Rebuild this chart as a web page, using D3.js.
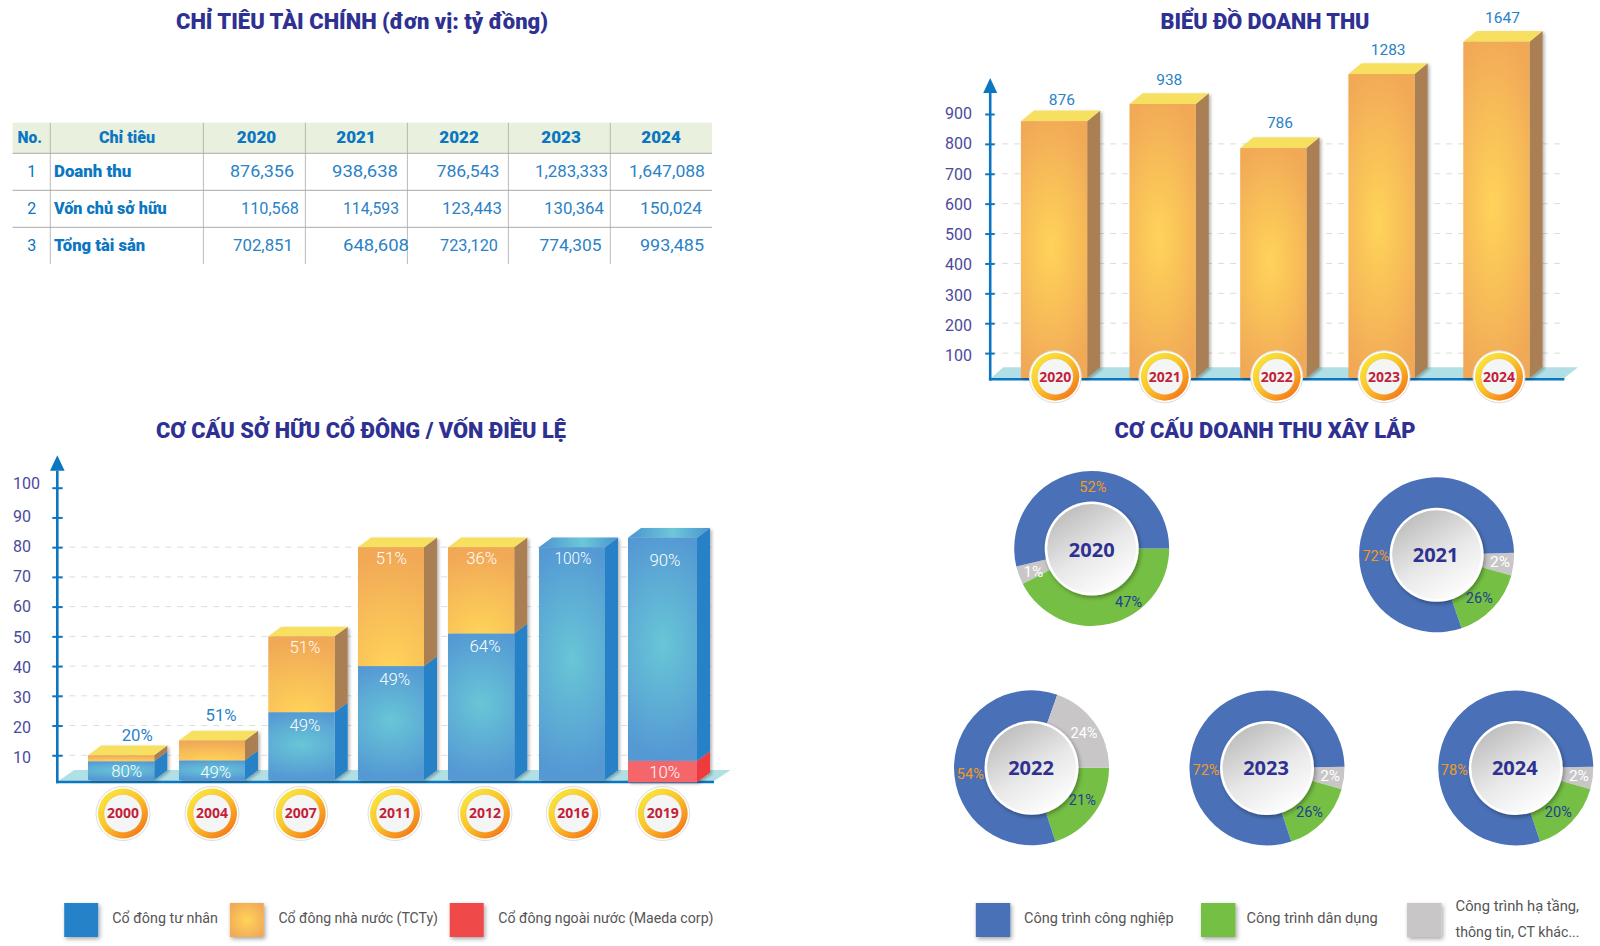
<!DOCTYPE html>
<html><head><meta charset="utf-8">
<style>html,body{margin:0;padding:0;background:#fff}svg{display:block}</style>
<script src="https://cdn.jsdelivr.net/npm/d3@7/dist/d3.min.js"></script>
</head><body><svg id="c" width="1600" height="946"></svg>
<script>
// ---------- data ----------
const tableHeader = ["No.","Chỉ tiêu","2020","2021","2022","2023","2024"];
const tableIndicators = ["Doanh thu","Vốn chủ sở hữu","Tổng tài sản"];
const tableRevenue = ["876,356","938,638","786,543","1,283,333","1,647,088"];
const tableEquity = ["110,568","114,593","123,443","130,364","150,024"];
const tableAssets = ["702,851","648,608","723,120","774,305","993,485"];

const revenueYears = ["2020","2021","2022","2023","2024"];
const revenueValues = [876,938,786,1283,1647];
const revenueTicks = [100,200,300,400,500,600,700,800,900];

const ownerYears = ["2000","2004","2007","2011","2012","2016","2019"];
const ownerPrivate = [8,8.3,24.5,40,51,80,75.1];
const ownerState = [2,6.7,25.5,40,29,0,0];
const ownerForeign = [0,0,0,0,0,0,8.1];
const ownerPrivateLabels = ["80%","49%","49%","49%","64%","100%","90%"];
const ownerStateLabels = ["20%","51%","51%","51%","36%","",""];
const ownerForeignLabels = ["","","","","","","10%"];
const ownerTicks = [10,20,30,40,50,60,70,80,90,100];
const ownerLegend = ["Cổ đông tư nhân","Cổ đông nhà nước (TCTy)","Cổ đông ngoài nước (Maeda corp)"];

const donutYears = ["2020","2021","2022","2023","2024"];
const donutOrder = [["green","grey","blue"],["grey","green","blue"],["green","blue","grey"],["grey","green","blue"],["grey","green","blue"]];
const donutShares = [[42.5,3.75,53.75],[4.7,15.5,79.8],[20,60.4,19.6],[4.7,15.5,79.8],[4.7,15.5,79.8]];
const donutLabels = [["47%","1%","52%"],["2%","26%","72%"],["21%","54%","24%"],["2%","26%","72%"],["2%","20%","78%"]];
const donutLegend = ["Công trình công nghiệp","Công trình dân dụng"];
const donutLegendLines = ["Công trình hạ tầng,","thông tin, CT khác..."];

// ---------- layout & style ----------
const BLUE="#0b76c1", NAVY="#2e3192", TXT="#2b82c6", TICK="#4b4a9c", LEG="#555";
const FONT="Roboto, 'Noto Sans', sans-serif", BADGE="'Open Sans', sans-serif";
const svg=d3.select("#c");
const defs=svg.append("defs");
function radial(id,cx,cy,r,sx,c0,c1){const g=defs.append("radialGradient").attr("id",id).attr("cx",cx).attr("cy",cy).attr("r",r)
    .attr("gradientTransform",`translate(${cx},${cy}) scale(${sx},1) translate(${-cx},${-cy})`);
  g.append("stop").attr("offset","0%").attr("stop-color",c0);g.append("stop").attr("offset","100%").attr("stop-color",c1);}
function linear(id,x1,y1,x2,y2,stops){const g=defs.append("linearGradient").attr("id",id).attr("x1",x1).attr("y1",y1).attr("x2",x2).attr("y2",y2);
  stops.forEach(s=>g.append("stop").attr("offset",s[0]).attr("stop-color",s[1]));}
radial("orangeTall",.45,.49,.52,1.5,"#ffd45a","#f1a957");
radial("orangeStack",.5,1.02,.95,1.4,"#ffd45a","#f1a957");
radial("orangeLeg",.5,.5,.6,1,"#ffd45a","#f1a957");
radial("blueFront",.5,.48,.5,1.9,"#68c6d6","#5599d4");
linear("blueTop",0,0,1,0,[[0,"#4c94d0"],[.55,"#6cc8d8"],[1,"#4c94d0"]]);
linear("ring",.15,.1,.85,.9,[[0,"#f8e43c"],[.45,"#fbc62a"],[1,"#f47a1a"]]);
linear("disc",.2,.05,.75,.95,[[0,"#bdbdbd"],[.55,"#e8e8e8"],[1,"#fdfdfd"]]);
const sh=defs.append("filter").attr("id","shadow").attr("x","-20%").attr("y","-20%").attr("width","150%").attr("height","150%");
sh.append("feDropShadow").attr("dx",2).attr("dy",1.5).attr("stdDeviation",1.6).attr("flood-color","#000").attr("flood-opacity",.28);
const sh2=defs.append("filter").attr("id","soft").attr("x","-30%").attr("y","-30%").attr("width","160%").attr("height","160%");
sh2.append("feDropShadow").attr("dx",1.5).attr("dy",2).attr("stdDeviation",2).attr("flood-color","#000").attr("flood-opacity",.35);

function label(parent,text,x,y,o={}){
  const t=parent.append("text").attr("x",x).attr("y",y).text(text)
    .attr("text-anchor",o.anchor||"middle").attr("dominant-baseline","central")
    .attr("font-family",o.font||FONT).attr("font-size",o.size||15)
    .attr("font-weight",o.weight||400).attr("fill",o.fill||TXT);
  if(o.w) t.attr("textLength",o.w).attr("lengthAdjust","spacingAndGlyphs");
  return t;
}
const poly=pts=>pts.map(p=>p.join(",")).join(" ");

// ---------- titles ----------
[["CHỈ TIÊU TÀI CHÍNH (đơn vị: tỷ đồng)",362,21.5,372],["BIỂU ĐỒ DOANH THU",1265,21.5,209],
 ["CƠ CẤU SỞ HỮU CỔ ĐÔNG / VỐN ĐIỀU LỆ",361,430.5,410],["CƠ CẤU DOANH THU XÂY LẮP",1265,430.5,301]]
 .forEach(d=>label(svg,d[0],d[1],d[2],{size:22,weight:900,fill:NAVY,w:d[3]}));

// ---------- table ----------
(function(){
  const g=svg.append("g");
  const L=12.6,R=712,colX=[50.3,203.4,305.4,407.4,508.4,610.3];
  const rowY=d3.scaleOrdinal().domain([-1,0,1,2,3]).range([122.7,153.3,190.3,227.3,264]);
  g.append("rect").attr("x",L).attr("y",rowY(-1)).attr("width",R-L).attr("height",rowY(0)-rowY(-1)).attr("fill","#e9f1de");
  [0,1,2].forEach(i=>g.append("line").attr("x1",L).attr("x2",R).attr("y1",rowY(i)).attr("y2",rowY(i)).attr("stroke","#a9a9a9"));
  colX.forEach(x=>g.append("line").attr("x1",x).attr("x2",x).attr("y1",rowY(-1)).attr("y2",rowY(3)).attr("stroke","#a9a9a9").attr("stroke-width",.8));
  const headX=[29.8,127,256.5,356,459,561,661], headW=[24.5,56,39.5,39.5,39.5,39.5,39.5];
  tableHeader.forEach((h,i)=>label(g,h,headX[i],137,{size:16,weight:900,fill:BLUE,w:headW[i]}));
  const cy=[171.2,208,245], lw=[77.3,112.7,91.2];
  const rows=[tableRevenue,tableEquity,tableAssets];
  const rightEdge=[[294,398,499.5,608,705],[299,399,502,604,702],[293,409,498,601.5,704]];
  const cellW=[[64,66,63,73,76],[58,56,60,60,62],[60,66,58,62,64]];
  rows.forEach((r,i)=>{
    label(g,String(i+1),31.7,cy[i],{size:16,fill:BLUE});
    label(g,tableIndicators[i],54,cy[i],{anchor:"start",size:16,weight:900,fill:BLUE,w:lw[i]});
    r.forEach((v,j)=>label(g,v,rightEdge[i][j],cy[i],{anchor:"end",size:17,fill:TXT,w:cellW[i][j]}));
  });
})();

// ---------- shared pieces ----------
function badge(parent,text,cx,cy,r){
  const g=parent.append("g").attr("transform",`translate(${cx},${cy})`);
  g.append("circle").attr("r",r).attr("fill","#fff").attr("stroke","#dcdcdc").attr("stroke-width",1);
  g.append("circle").attr("r",r-2).attr("fill","url(#ring)");
  g.append("circle").attr("r",r-8).attr("fill","#f4f6f5").attr("stroke","#d98a20").attr("stroke-opacity",.35).attr("stroke-width",.6);
  label(g,text,0,-.7,{font:BADGE,size:14,weight:700,fill:"#c41e3a"});
}
function prism(g,x,w,yTop,yBot,dx,dy,front,side,top){
  g.append("polygon").attr("points",poly([[x+w,yTop],[x+w+dx,yTop-dy],[x+w+dx,yBot-dy],[x+w,yBot]])).attr("fill",side);
  if(top) g.append("polygon").attr("points",poly([[x,yTop],[x+dx,yTop-dy],[x+w+dx,yTop-dy],[x+w,yTop]])).attr("fill",top);
  g.append("rect").attr("x",x).attr("y",yTop).attr("width",w).attr("height",Math.max(0,yBot-yTop)).attr("fill",front);
}
function axisFrame(x0,x1,base,floorTop,floorBottom,floorDx,floorRight,arrowTip,arrowBase,arrowHalf,y,ticks,gridTicks,tickHalfL,tickHalfR,labelX,nudge){
  const g=svg.append("g");
  gridTicks.forEach(t=>g.append("line").attr("x1",x0).attr("x2",x1).attr("y1",y(t)).attr("y2",y(t))
     .attr("stroke","#dcdcdc").attr("stroke-width",1).attr("stroke-dasharray","6 6"));
  g.append("polygon").attr("points",poly([[x0+1,floorBottom],[x0+floorDx,floorTop],[floorRight,floorTop],[x1,floorBottom]])).attr("fill","#b0e0e5");
  const ax=g.append("g").attr("transform",`translate(${x0},0)`).call(d3.axisLeft(y).tickValues(ticks).tickSize(0));
  ax.select(".domain").remove();
  ax.selectAll(".tick line").attr("x1",-tickHalfL).attr("x2",tickHalfR).attr("stroke",BLUE).attr("stroke-width",2);
  ax.selectAll(".tick text").attr("x",labelX-x0).attr("dy",0).attr("y",d=>nudge(d)).attr("text-anchor","start")
     .attr("dominant-baseline","central").attr("font-family",FONT).attr("font-size",16).attr("fill",TICK);
  g.append("line").attr("x1",x0).attr("x2",x0).attr("y1",arrowBase).attr("y2",base+1.3).attr("stroke",BLUE).attr("stroke-width",2.6);
  g.append("line").attr("x1",x0-1.3).attr("x2",x1).attr("y1",base).attr("y2",base).attr("stroke",BLUE).attr("stroke-width",2.6);
  g.append("polygon").attr("points",poly([[x0,arrowTip],[x0+arrowHalf,arrowBase],[x0-arrowHalf,arrowBase]])).attr("fill",BLUE);
}

// ---------- revenue chart ----------
(function(){
  const y=d3.scaleLinear().domain([0,900,938,1283,1647]).range([383,114,104,74,41.7]);
  axisFrame(990.2,1564.4,379.3,367.3,378,13,1578,78,93,7,y,revenueTicks,revenueTicks.filter(t=>t<900),5,4.5,945,d=>2.7*(900-d)/800-.8);
  const x=d3.scaleOrdinal().domain(revenueYears).range([1020.9,1129.5,1240.2,1348.4,1463.3]);
  const bx=d3.scaleOrdinal().domain(revenueYears).range([1055.3,1164.8,1276.7,1384,1499]);
  const W=66.3,DX=13,DY=10.7,BOT=378;
  const lift=[21.5,23.8,25,24,23.5], shift=[7.8,6.6,6.6,6.6,6];
  revenueYears.forEach((yr,i)=>{
    const g=svg.append("g").attr("filter","url(#shadow)");
    prism(g,x(yr),W,y(revenueValues[i]),BOT,DX,DY,"url(#orangeTall)","#a97f52","#f7e060");
    label(svg,String(revenueValues[i]),x(yr)+W/2+shift[i],y(revenueValues[i])-lift[i],{size:15.5});
  });
  revenueYears.forEach(yr=>badge(svg,yr,bx(yr),376.7,26));
})();

// ---------- ownership chart ----------
(function(){
  const y=d3.scaleLinear().domain([0,100]).range([785,487.7]);
  axisFrame(57.3,714,782,770,781,17,730.7,455.3,470.7,7.3,y,ownerTicks,ownerTicks.filter(t=>t<=80),5,5.4,13,d=>d===100?-5:1.5-2.6*(d-10)/80);
  const x=d3.scaleOrdinal().domain(ownerYears).range([88,179,268.3,358,448,539,628]);
  const bx=d3.scaleOrdinal().domain(ownerYears).range([123,212,300.7,395,485,573.3,662.7]);
  const widths=[66.3,66,66.4,66,66.3,66,69];
  const DX=13,DY=9.7,BOT=780;
  const pN=[[5.5,10],[3.7,12],[3.5,13],[3.7,13.3],[3.9,13.6],[1,11.3],[2.5,23.3]];
  const sN=[[16,-19.7],[9,-25.3],[3.5,11.3],[.3,11.3],[.5,11.3],[0,0],[0,0]];
  const fN=[[0,0],[0,0],[0,0],[0,0],[0,0],[0,0],[2.2,12]];
  const texts=[];
  ownerYears.forEach((yr,i)=>{
    const g=svg.append("g").attr("filter","url(#shadow)");
    const X=x(yr),W=widths[i],cx=X+W/2;
    const f=ownerForeign[i],p=ownerPrivate[i],s=ownerState[i];
    const yF=f?y(f):BOT, yP=y(f+p), yS=y(f+p+s);
    const bot=f?782.3:BOT;
    if(f) prism(g,X,W,yF,bot,DX,DY,"#f5666b","#ef3a3a",null);
    prism(g,X,W,yP,yF,DX,DY,"url(#blueFront)","#2681c7",s?null:"url(#blueTop)");
    if(s) prism(g,X,W,yS,yP,DX,DY,"url(#orangeStack)","#a97f52","#f7e060");
    if(ownerPrivateLabels[i]) texts.push([ownerPrivateLabels[i],cx+pN[i][0],yP+pN[i][1],"#fff"]);
    if(ownerStateLabels[i]) texts.push([ownerStateLabels[i],cx+sN[i][0],yS+sN[i][1],sN[i][1]<0?TXT:"#fff"]);
    if(ownerForeignLabels[i]) texts.push([ownerForeignLabels[i],cx+fN[i][0],yF+fN[i][1],"#fff"]);
  });
  texts.forEach(t=>label(svg,t[0],t[1],t[2],{size:16,weight:t[3]==="#fff"?300:400,fill:t[3],w:t[0].length===4?37:31}));
  ownerYears.forEach(yr=>badge(svg,yr,bx(yr),813.5,27));
  const swX=[64.2,229.8,449.7],txtX=[112.3,278.4,498.3],txtW=[105.7,159.6,215.2],fills=["#2582c8","url(#orangeLeg)","#f04848"];
  ownerLegend.forEach((t,i)=>{
    svg.append("rect").attr("x",swX[i]).attr("y",903).attr("width",34).attr("height",34).attr("fill",fills[i]).attr("filter","url(#soft)");
    label(svg,t,txtX[i],918,{anchor:"start",size:15.5,fill:LEG,w:txtW[i]});
  });
})();

// ---------- donuts ----------
(function(){
  const color=d3.scaleOrdinal().domain(["blue","green","grey"]).range(["#4a71b7","#75bf44","#c8c6c7"]);
  const labelColor=d3.scaleOrdinal().domain(["blue","green","grey"]).range(["#f39a1d","#1f418f","#ffffff"]);
  const cx=[1091.7,1436.6,1031.5,1267,1515.8], cy=[548.5,554.8,767.8,768,768];
  const startShift=[0,-1.5,0,-1,-1];
  const textShift=[[0,1],[-1,-.8],[-.5,-.6],[-1,-.8],[-1,-.8]];
  const R=77.5;
  const arc=d3.arc().innerRadius(44).outerRadius(R);
  const lab=[[[1128.6,601.7],[1033.4,572],[1092.8,487]],[[1500,562],[1479.3,598.3],[1375.9,556.3]],
             [[1082.3,800],[970.3,774.3],[1084,733.3]],[[1330.2,775.7],[1309.5,812.3],[1206,770]],[[1578.9,775.7],[1558.3,812.3],[1454.3,770]]];
  donutYears.forEach((yr,i)=>{
    const a0=(90+startShift[i])*Math.PI/180;
    const pie=d3.pie().sort(null).startAngle(a0).endAngle(a0+2*Math.PI);
    const g=svg.append("g").attr("transform",`translate(${cx[i]},${cy[i]})`);
    g.selectAll("path").data(pie(donutShares[i])).join("path").attr("d",arc).attr("fill",(d,j)=>color(donutOrder[i][j]));
    g.append("circle").attr("r",47).attr("fill","#fff").attr("filter","url(#soft)");
    g.append("circle").attr("r",44.5).attr("fill","url(#disc)");
    label(g,yr,textShift[i][0],textShift[i][1],{font:BADGE,size:20,weight:700,fill:NAVY});
    donutLabels[i].forEach((t,j)=>label(svg,t,lab[i][j][0],lab[i][j][1],{size:15,fill:labelColor(donutOrder[i][j]),w:t.length===2?20:27}));
  });
  const swX=[975.8,1201,1407],fills=["#4a71b7","#75bf44","#c8c6c7"];
  swX.forEach((x,i)=>svg.append("rect").attr("x",x).attr("y",903).attr("width",34.5).attr("height",34).attr("fill",fills[i]).attr("filter","url(#soft)"));
  label(svg,donutLegend[0],1024,918,{anchor:"start",size:15.5,fill:LEG,w:149.6});
  label(svg,donutLegend[1],1246.4,918,{anchor:"start",size:15.5,fill:LEG,w:131.3});
  label(svg,donutLegendLines[0],1455.6,906,{anchor:"start",size:15.5,fill:LEG,w:123.4});
  label(svg,donutLegendLines[1],1455.6,932,{anchor:"start",size:15.5,fill:LEG,w:124});
})();
</script></body></html>
